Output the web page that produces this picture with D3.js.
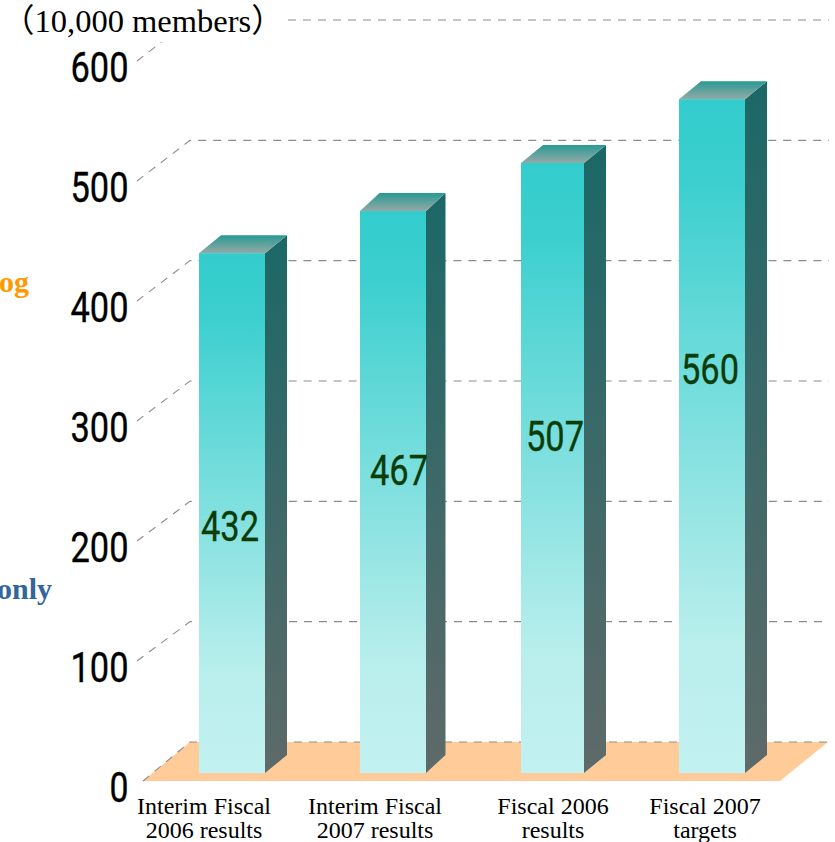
<!DOCTYPE html>
<html><head><meta charset="utf-8">
<style>html,body{margin:0;padding:0;background:#fff;overflow:hidden}svg{display:block}</style>
<script src="https://cdn.jsdelivr.net/npm/d3@7/dist/d3.min.js"></script>
</head><body><svg id="c" width="835" height="842"></svg>
<script>
const categories = [["Interim Fiscal","2006 results"],["Interim Fiscal","2007 results"],["Fiscal 2006","results"],["Fiscal 2007","targets"]];
const members = [432,467,507,560];
const yTicks = [0,100,200,300,400,500,600];
const unitLabel = "（10,000 members）";
const clippedNotes = [{text:"og",color:"#ff9900"},{text:"only",color:"#336699"}];

// layout
const svg = d3.select("#c");
const yBar = d3.scaleLinear().domain([0,600]).range([773,51]);
const yFront = d3.scaleLinear().domain([0,600]).range([781,61]);
const yBack = d3.scaleLinear().domain([0,600]).range([742,20]);
const x = d3.scalePoint().domain(d3.range(4)).range([199,679]);
const barNudge = [0,1,2,0];
const barWidths = [66,66,63,66];
const depths = [22,19.5,22,22];
const depY = 18;
const wallFront = 137, wallBack = 190, gridEnd = 829;
const labelCenters = [{x:230,y:13},{x:399,y:-22},{x:555,y:-32},{x:710,y:-67}];
const catCenters = [204,375,553,705];
const notePos = [{x:29,y:292},{x:52,y:599}];

const defs = svg.append("defs");
function grad(id,stops){
  const g = defs.append("linearGradient").attr("id",id).attr("x1",0).attr("y1",0).attr("x2",0).attr("y2",1);
  stops.forEach(s=>g.append("stop").attr("offset",s[0]).attr("stop-color",s[1]));
}
grad("front",[[0,"#33cccc"],[0.12,"#3ccfcf"],[0.8,"#b8eeec"],[1,"#c2f1f1"]]);
grad("side",[[0,"#1b6867"],[1,"#5e6a69"]]);
grad("top",[[0,"#279a94"],[1,"#95a9a6"]]);

// floor
svg.append("path").attr("fill","#ffcc99").attr("d","M143,781L190,742L828,742L780,781Z");

// wall grid
const grid = svg.append("g").attr("fill","none").attr("stroke","#8c8c8c").attr("stroke-width",1.1).attr("stroke-dasharray","8,7");
yTicks.forEach(t=>{
  const startX = t===0 ? 143 : wallFront;
  grid.append("path").attr("d",`M${startX},${yFront(t)}L${wallBack},${yBack(t)}L${gridEnd},${yBack(t)}`);
});

// unit label mask and text
svg.append("rect").attr("x",0).attr("y",0).attr("width",283).attr("height",42).attr("fill","#fff");
svg.append("text").attr("x",2).attr("y",32).attr("font-family","'Liberation Serif','Noto Sans CJK JP',serif").attr("font-size",32.5).attr("fill","#000").text(unitLabel);

// bars
svg.append("g").selectAll("g").data(members).join("g").each(function(v,i){
  const g = d3.select(this), x1 = x(i)+barNudge[i], w = barWidths[i], top = yBar(v), bot = yBar(0), depX = depths[i];
  g.append("path").attr("fill","url(#side)").attr("d",`M${x1+w},${top}L${x1+w+depX},${top-depY}L${x1+w+depX},${bot-depY}L${x1+w},${bot}Z`);
  g.append("path").attr("fill","url(#top)").attr("d",`M${x1},${top}L${x1+depX},${top-depY}L${x1+w+depX},${top-depY}L${x1+w},${top}Z`);
  g.append("rect").attr("x",x1).attr("y",top).attr("width",w).attr("height",bot-top).attr("fill","url(#front)");
});

// narrow gothic numerals: squeezed to width
function numeral(px,py,s,color,width){
  svg.append("text").attr("x",px).attr("y",py).attr("font-family","Roboto,'Liberation Sans',sans-serif")
    .attr("font-size",42).attr("fill",color).attr("stroke",color).attr("stroke-width",0.35)
    .attr("textLength",width).attr("lengthAdjust","spacingAndGlyphs").text(s);
}
yTicks.forEach(t=>{
  const s = String(t), w = s.length===1 ? 19 : 58;
  numeral(128.5-w,yFront(t)+21,s,"#000",w);
});
members.forEach((v,i)=>{
  const cy=(yBar(v)+yBar(0))/2+labelCenters[i].y;
  numeral(labelCenters[i].x-29,cy+15,String(v),"#0a3d0a",58);
});

// category labels
categories.forEach((lines,i)=>{
  lines.forEach((l,j)=>svg.append("text").attr("x",catCenters[i]).attr("y",813.5+j*24.5).attr("text-anchor","middle")
    .attr("font-family","'Liberation Serif',serif").attr("font-size",24).attr("fill","#000").text(l));
});

// clipped side notes
clippedNotes.forEach((n,i)=>svg.append("text").attr("x",notePos[i].x).attr("y",notePos[i].y).attr("text-anchor","end")
  .attr("font-family","'Liberation Serif',serif").attr("font-weight","bold").attr("font-size",30).attr("fill",n.color).text(n.text));
</script></body></html>
